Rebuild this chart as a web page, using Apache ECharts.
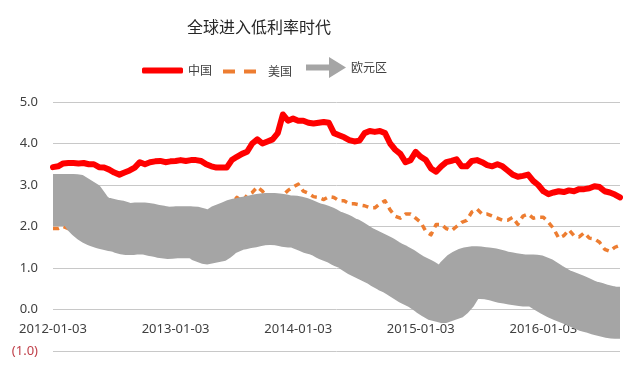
<!DOCTYPE html>
<html>
<head>
<meta charset="utf-8">
<script src="https://cdn.jsdelivr.net/npm/echarts@6/dist/echarts.min.js"></script>
<style>
html,body{margin:0;padding:0;background:#fff;}
#c{width:640px;height:371px;}
</style>
</head>
<body>
<div id="c"></div>
<script>
// ---- data (semi-monthly samples: the 3rd and 18th of each month) ----
const startYear = 2012;
const pointCount = 112; // 2012-01-03 .. 2016-08-18
const categories = [];
(function(){
  let y = startYear, m = 1, d = 0;
  while (categories.length < pointCount) {
    const day = d === 0 ? '03' : '18';
    categories.push(y + '-' + String(m).padStart(2,'0') + '-' + day);
    d++; if (d > 1) { d = 0; m++; if (m > 12) { m = 1; y++; } }
  }
})();

const seriesNames = ['中国', '美国', '欧元区'];

const china = [
3.43,3.45,3.52,3.53,3.53,3.52,3.53,3.50,3.50,3.43,
3.42,3.37,3.30,3.25,3.30,3.35,3.42,3.55,3.50,3.55,
3.57,3.58,3.55,3.57,3.58,3.60,3.58,3.60,3.60,3.58,
3.50,3.45,3.42,3.42,3.42,3.60,3.68,3.75,3.80,4.00,
4.10,4.00,4.05,4.10,4.25,4.70,4.55,4.60,4.55,4.55,
4.50,4.48,4.50,4.52,4.50,4.25,4.20,4.15,4.08,4.05,
4.07,4.25,4.30,4.28,4.30,4.25,4.00,3.85,3.75,3.55,
3.60,3.80,3.68,3.60,3.40,3.32,3.45,3.55,3.58,3.62,
3.45,3.45,3.58,3.60,3.55,3.48,3.45,3.50,3.45,3.35,
3.25,3.20,3.22,3.25,3.10,3.00,2.85,2.78,2.82,2.85,
2.83,2.87,2.85,2.90,2.90,2.92,2.97,2.95,2.85,2.82,
2.77,2.70];

const usa = [
1.95,1.95,2.00,1.95,1.98,2.05,2.20,2.25,2.00,1.90,
1.70,1.60,1.55,1.50,1.65,1.75,1.70,1.75,1.70,1.65,
1.62,1.70,1.65,1.75,1.88,1.95,2.00,1.95,1.90,1.85,
1.75,1.70,1.75,2.00,2.15,2.55,2.70,2.60,2.75,2.82,
2.95,2.85,2.70,2.70,2.65,2.75,2.87,2.95,3.02,2.85,
2.80,2.72,2.70,2.65,2.72,2.70,2.62,2.62,2.55,2.55,
2.52,2.50,2.45,2.45,2.55,2.62,2.40,2.25,2.20,2.30,
2.30,2.20,2.10,1.88,1.80,2.05,2.05,1.95,1.90,2.00,
2.10,2.15,2.35,2.42,2.30,2.30,2.25,2.20,2.15,2.15,
2.22,2.05,2.25,2.30,2.20,2.22,2.22,2.10,1.95,1.72,
1.78,1.92,1.78,1.75,1.85,1.72,1.70,1.62,1.45,1.40,
1.50,1.55];

const euro = [
2.64,2.64,2.64,2.64,2.64,2.62,2.45,2.28,2.18,2.12,
2.08,2.05,2.02,2.00,1.95,1.93,1.95,1.95,1.95,1.93,
1.90,1.88,1.84,1.85,1.86,1.86,1.86,1.86,1.85,1.80,
1.72,1.70,1.78,1.90,1.95,2.00,2.05,2.07,2.10,2.12,
2.15,2.17,2.18,2.18,2.17,2.15,2.12,2.12,2.10,2.05,
2.00,1.95,1.92,1.87,1.80,1.75,1.70,1.63,1.58,1.50,
1.42,1.36,1.30,1.24,1.18,1.10,1.03,0.97,0.90,0.82,
0.74,0.68,0.62,0.54,0.45,0.37,0.30,0.30,0.40,0.60,
0.78,0.86,0.90,0.90,0.88,0.87,0.85,0.82,0.78,0.76,
0.74,0.72,0.70,0.70,0.70,0.68,0.60,0.52,0.45,0.38,
0.33,0.28,0.23,0.18,0.12,0.07,0.04,0.00,-0.03,-0.06,
-0.08,-0.08];

const yMin = -1, yMax = 5, yStep = 1;

// ---- chart ----
const colors = { china: '#FF0000', usa: '#ED7D31', euro: '#A5A5A5' };
const textColor = '#404040';
const negColor = '#C0404A';
const gridColor = '#C8C8C8';
const latin = "'Noto Sans', 'Noto Sans CJK SC', sans-serif";
const cjk = "'Noto Sans CJK SC', sans-serif";

const gridTop = 102, gridBottom = 20, chartH = 371;
const plotH = chartH - gridTop - gridBottom;
const zeroOffset = -plotH * (0 - yMin) / (yMax - yMin); // move the x axis up to value 0

const chart = echarts.init(document.getElementById('c'), null, { renderer: 'canvas' });

function legendOf(name, left, w, h, icon, color, extraText) {
  return {
    data: [{ name: name, icon: icon, itemStyle: { color: color, borderWidth: 0 } }],
    left: left, top: 67.5 - h / 2, padding: 0,
    itemWidth: w, itemHeight: h,
    selectedMode: false,
    textStyle: Object.assign({ fontSize: 12, color: textColor, fontFamily: cjk }, extraText || {})
  };
}

chart.setOption({
  animation: false,
  backgroundColor: '#ffffff',
  title: {
    text: '全球进入低利率时代',
    left: 187, top: 19, padding: 0,
    textStyle: { fontSize: 16, fontWeight: 'normal', color: '#262626', fontFamily: cjk }
  },
  legend: [
    legendOf(seriesNames[0], 142, 41, 6, 'roundRect', colors.china),
    legendOf(seriesNames[1], 223, 33, 4, 'path://M0 0H12V4H0Z M21 0H33V4H21Z', colors.usa, { padding: [0, 0, 0, 7] }),
    legendOf(seriesNames[2], 306, 40, 21, 'path://M0 7.5H23V0L40 10.5L23 21V13.5H0Z', colors.euro)
  ],
  grid: { left: 53, right: 20, top: gridTop, bottom: gridBottom, containLabel: false, outerBoundsMode: 'none' },
  xAxis: {
    type: 'category',
    data: categories,
    boundaryGap: false,
    position: 'bottom',
    offset: zeroOffset,
    axisLine: { show: false, onZero: false },
    axisTick: { show: false },
    splitLine: { show: false },
    axisLabel: {
      interval: function (idx, val) { return val.slice(5) === '01-03'; },
      margin: 13,
      fontSize: 13, color: textColor, fontFamily: latin,
      showMinLabel: true
    }
  },
  yAxis: {
    type: 'value',
    min: yMin, max: yMax, interval: yStep,
    axisLine: { show: false },
    axisTick: { show: false },
    splitLine: { show: true, lineStyle: { color: gridColor, width: 1 } },
    axisLabel: {
      margin: 15,
      fontSize: 13, fontFamily: latin,
      color: function (v) { return parseFloat(v) < 0 ? negColor : textColor; },
      formatter: function (v) { return v < 0 ? '(' + Math.abs(v).toFixed(1) + ')' : v.toFixed(1); }
    }
  },
  series: [
    {
      name: seriesNames[0], type: 'line', data: china, z: 4,
      symbol: 'none', showSymbol: false,
      lineStyle: { color: colors.china, width: 6, join: 'round', cap: 'round' },
      itemStyle: { color: colors.china }
    },
    {
      name: seriesNames[1], type: 'line', data: usa, z: 2,
      symbol: 'none', showSymbol: false,
      lineStyle: { color: colors.usa, width: 3.5, type: [6, 5], join: 'round' },
      itemStyle: { color: colors.usa }
    },
    {
      name: seriesNames[2], type: 'line', data: euro, z: 3,
      symbol: 'none', showSymbol: false,
      lineStyle: { color: colors.euro, width: 52, join: 'bevel', cap: 'butt' },
      itemStyle: { color: colors.euro }
    }
  ]
});
</script>
</body>
</html>
